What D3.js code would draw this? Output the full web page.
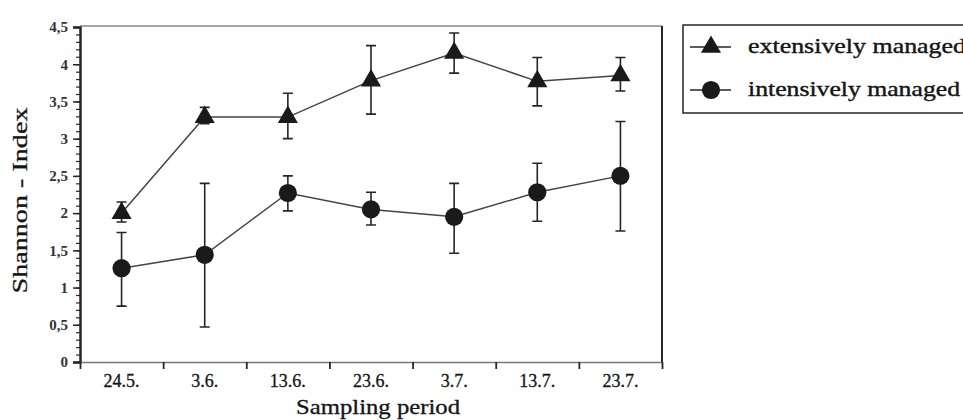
<!DOCTYPE html>
<html>
<head>
<meta charset="utf-8">
<script src="https://cdn.jsdelivr.net/npm/d3@7"></script>
</head>
<body style="margin:0">
<script>

// --------------------------------------------------------
// (1) Data
// --------------------------------------------------------

var dates = ["24.5.", "3.6.", "13.6.", "23.6.", "3.7.", "13.7.", "23.7."]

var extMean = [2.00, 3.29, 3.29, 3.78, 4.15, 3.77, 3.85]
var extLow  = [1.88, 3.20, 3.00, 3.33, 3.88, 3.44, 3.64]
var extHigh = [2.15, 3.42, 3.61, 4.25, 4.42, 4.09, 4.09]

var intMean = [1.26, 1.44, 2.27, 2.05, 1.95, 2.28, 2.50]
var intLow  = [0.75, 0.47, 2.03, 1.84, 1.46, 1.89, 1.76]
var intHigh = [1.74, 2.40, 2.50, 2.28, 2.40, 2.67, 3.23]

var yMajor = [0, 0.5, 1, 1.5, 2, 2.5, 3, 3.5, 4, 4.5]

var legendLabels = ["extensively managed", "intensively managed"]

// --------------------------------------------------------
// (2) Sizes
// --------------------------------------------------------

var svg_width = 963
var svg_height = 420

const plot = { left: 80, right: 662, top: 27, bottom: 362 }
var ink = "#262626"
var textInk = "#151515"
var serif = "Liberation Serif"

const svg = d3.select("body")
  .append("svg")
    .attr("width", svg_width)
    .attr("height", svg_height)

// --------------------------------------------------------
// (3) Scales
// --------------------------------------------------------

const x = d3.scaleBand()
  .domain(dates)
  .range([plot.left, plot.right])
  .padding(0)

const xEdge = d3.scaleLinear()
  .domain([0, dates.length])
  .range([plot.left, plot.right])

const y = d3.scaleLinear()
  .domain([0, 4.5])
  .range([plot.bottom, plot.top])

const cx = d => x(d) + x.bandwidth() / 2

// --------------------------------------------------------
// (4) Frame + axes
// --------------------------------------------------------

// top frame line (light) and right frame line (dark)
svg.append("line")
  .attr("x1", plot.left).attr("x2", plot.right)
  .attr("y1", plot.top - 1).attr("y2", plot.top - 1)
  .attr("stroke", "#888").attr("stroke-width", 1.5)
svg.append("line")
  .attr("x1", plot.right).attr("x2", plot.right)
  .attr("y1", plot.top - 1).attr("y2", plot.bottom)
  .attr("stroke", ink).attr("stroke-width", 2)

// y minor ticks
const yMinor = svg.append("g")
  .attr("transform", `translate(${plot.left},0)`)
  .call(d3.axisLeft(y).tickValues(d3.range(0, 46).map(i => i / 10)).tickSize(4).tickFormat(""))
yMinor.select(".domain").remove()
yMinor.selectAll("line").attr("stroke", ink).attr("stroke-width", 1.2)

// y major ticks + labels
const yAxis = svg.append("g")
  .attr("transform", `translate(${plot.left},0)`)
  .call(d3.axisLeft(y).tickValues(yMajor).tickSize(7).tickPadding(5)
    .tickFormat(d => String(d).replace(".", ",")))
yAxis.select(".domain").attr("stroke", ink).attr("stroke-width", 2.5)
yAxis.selectAll("line").attr("stroke", ink).attr("stroke-width", 1.5)
yAxis.selectAll("text")
  .attr("font-family", serif)
  .attr("font-size", 15)
  .attr("font-weight", "bold")
  .attr("fill", "#333")

// x axis: ticks on band edges
const xAxis = svg.append("g")
  .attr("transform", `translate(0,${plot.bottom})`)
  .call(d3.axisBottom(xEdge).tickValues(d3.range(0, dates.length + 1))
    .tickSize(7).tickSizeOuter(0).tickFormat(""))
xAxis.select(".domain").attr("stroke", "#777").attr("stroke-width", 1.5)
xAxis.selectAll("line").attr("stroke", ink).attr("stroke-width", 1.8)

// x labels at band centres
svg.append("g")
  .selectAll("text")
  .data(dates)
  .join("text")
    .attr("x", d => cx(d))
    .attr("y", plot.bottom + 25)
    .attr("text-anchor", "middle")
    .attr("fill", textInk)
    .attr("stroke", textInk)
    .attr("stroke-width", 0.3)
    .attr("font-family", serif)
    .attr("font-size", 18)
    .text(d => d)

// axis titles
svg.append("text")
  .attr("x", (plot.left + plot.right) / 2 + 7)
  .attr("y", 414)
  .attr("text-anchor", "middle")
  .attr("textLength", 164)
  .attr("lengthAdjust", "spacingAndGlyphs")
  .attr("fill", textInk)
  .attr("stroke", textInk)
  .attr("stroke-width", 0.3)
  .attr("font-family", serif)
  .attr("font-size", 21)
  .text("Sampling period")

svg.append("text")
  .attr("transform", `translate(27,${(plot.top + plot.bottom) / 2 + 6}) rotate(-90)`)
  .attr("text-anchor", "middle")
  .attr("textLength", 186)
  .attr("lengthAdjust", "spacingAndGlyphs")
  .attr("fill", textInk)
  .attr("stroke", textInk)
  .attr("stroke-width", 0.3)
  .attr("font-family", serif)
  .attr("font-size", 21)
  .text("Shannon - Index")

// --------------------------------------------------------
// (5) Series
// --------------------------------------------------------

const series = [
  { name: legendLabels[0], mean: extMean, low: extLow, high: extHigh, shape: d3.symbolTriangle, size: 175 },
  { name: legendLabels[1], mean: intMean, low: intLow, high: intHigh, shape: d3.symbolCircle, size: 260 }
]

const line = d3.line()
  .x(d => cx(d.date))
  .y(d => y(d.v))

series.forEach(s => {
  const pts = dates.map((d, i) => ({ date: d, v: s.mean[i], lo: s.low[i], hi: s.high[i] }))
  const g = svg.append("g")

  // error bars
  g.selectAll(".err")
    .data(pts)
    .join("path")
      .attr("d", d => `M${cx(d.date)},${y(d.lo)}V${y(d.hi)}M${cx(d.date) - 5},${y(d.lo)}h10M${cx(d.date) - 5},${y(d.hi)}h10`)
      .attr("fill", "none")
      .attr("stroke", ink)
      .attr("stroke-width", 1.6)

  // connecting line
  g.append("path")
    .datum(pts)
    .attr("d", line)
    .attr("fill", "none")
    .attr("stroke", "#444")
    .attr("stroke-width", 1.5)

  // markers
  g.selectAll(".mk")
    .data(pts)
    .join("path")
      .attr("transform", d => `translate(${cx(d.date)},${y(d.v)})`)
      .attr("d", d3.symbol().type(s.shape).size(s.size))
      .attr("fill", "#1a1a1a")
})

// --------------------------------------------------------
// (6) Legend
// --------------------------------------------------------

const legend = svg.append("g")

legend.append("rect")
  .attr("x", 683).attr("y", 25)
  .attr("width", 290).attr("height", 88)
  .attr("fill", "none")
  .attr("stroke", ink)
  .attr("stroke-width", 1.5)

series.forEach((s, i) => {
  const ly = 47 + i * 43
  legend.append("line")
    .attr("x1", 690).attr("x2", 731)
    .attr("y1", ly).attr("y2", ly)
    .attr("stroke", ink).attr("stroke-width", 1.6)
  legend.append("path")
    .attr("transform", `translate(711,${ly})`)
    .attr("d", d3.symbol().type(s.shape).size(s.size))
    .attr("fill", "#1a1a1a")
  legend.append("text")
    .attr("x", 748)
    .attr("y", ly + 6)
    .attr("textLength", i === 0 ? 218 : 212)
    .attr("lengthAdjust", "spacingAndGlyphs")
    .attr("fill", textInk)
    .attr("stroke", textInk)
    .attr("stroke-width", 0.4)
    .attr("font-family", serif)
    .attr("font-size", 21)
    .text(s.name)
})

</script>
</body>
</html>
